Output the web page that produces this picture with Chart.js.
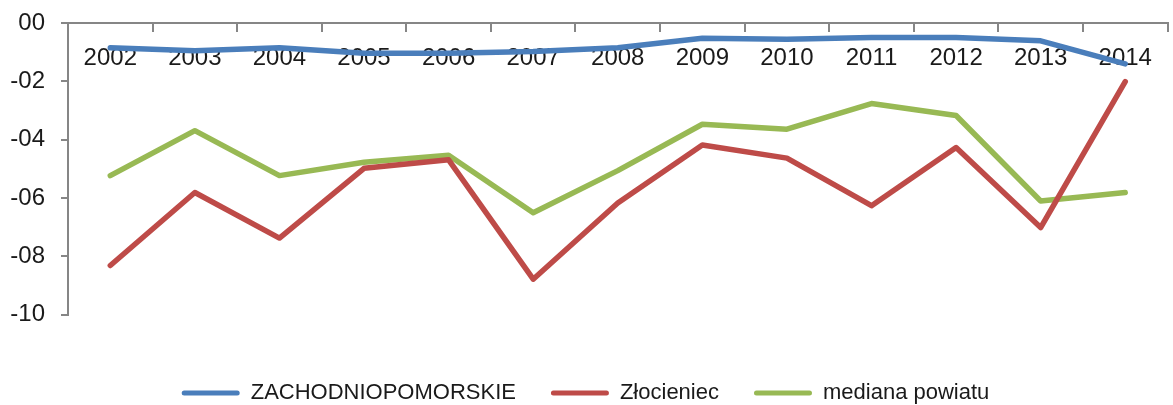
<!DOCTYPE html>
<html>
<head>
<meta charset="utf-8">
<script src="https://cdn.jsdelivr.net/npm/chart.js@4"></script>
<style>
html,body{margin:0;padding:0;background:#fff;}
#wrap{width:1173px;height:405px;}
</style>
</head>
<body>
<div id="wrap"><canvas id="chart"></canvas></div>
<script>
// data
const years = ["2002","2003","2004","2005","2006","2007","2008","2009","2010","2011","2012","2013","2014"];
const zachodniopomorskie = [-0.85,-0.95,-0.85,-1.04,-1.04,-0.98,-0.85,-0.52,-0.56,-0.5,-0.5,-0.61,-1.4];
const zlocieniec = [-8.31,-5.81,-7.37,-4.98,-4.69,-8.78,-6.17,-4.18,-4.63,-6.26,-4.27,-7.01,-2.01];
const mediana = [-5.23,-3.69,-5.23,-4.77,-4.53,-6.5,-5.06,-3.47,-3.64,-2.76,-3.17,-6.1,-5.81];
const yTickLabels = {"0":"00","-2":"-02","-4":"-04","-6":"-06","-8":"-08","-10":"-10"};

const axisGray = "#868686";
const font = "'Liberation Sans', Arial, sans-serif";

const ctx = document.getElementById("chart");
new Chart(ctx,{
type:"line",
data:{
labels:years,
datasets:[
{label:"ZACHODNIOPOMORSKIE",data:zachodniopomorskie,borderColor:"#4A7EBB",backgroundColor:"#4A7EBB"},
{label:"Złocieniec",data:zlocieniec,borderColor:"#BE4B48",backgroundColor:"#BE4B48"},
{label:"mediana powiatu",data:mediana,borderColor:"#98B954",backgroundColor:"#98B954"}
]
},
options:{
responsive:true,
maintainAspectRatio:false,
animation:false,
layout:{padding:{left:0,right:2,top:0,bottom:-9}},
elements:{
line:{borderWidth:5.5,tension:0,fill:false,borderCapStyle:"round",borderJoinStyle:"round"},
point:{radius:0,hoverRadius:0}
},
plugins:{
tooltip:{enabled:false},
legend:{
position:"bottom",
title:{display:true,text:"",font:{size:1},padding:{top:31,bottom:0}},
labels:{
font:{family:font,size:22},
color:"#1a1a1a",
boxWidth:58,
boxHeight:5,
padding:35,
useBorderRadius:true,
borderRadius:2.5,
generateLabels:(chart)=>Chart.defaults.plugins.legend.labels.generateLabels(chart).map(l=>({...l,lineWidth:0,fillStyle:l.strokeStyle}))
}
}
},
scales:{
x:{
position:"top",
offset:true,
grid:{offset:true,drawOnChartArea:false,drawTicks:true,tickLength:-9,color:axisGray,lineWidth:2},
border:{display:true,color:axisGray,width:2},
ticks:{mirror:true,padding:21,autoSkip:false,maxRotation:0,font:{family:font,size:24},color:"#1a1a1a"},
afterFit:(s)=>{s.height=23;}
},
y:{
min:-10,max:0,
grid:{drawOnChartArea:false,drawTicks:true,tickLength:7,color:axisGray,lineWidth:2},
border:{display:true,color:axisGray,width:2},
ticks:{stepSize:2,padding:16,font:{family:font,size:24},color:"#1a1a1a",
callback:(v)=>yTickLabels[String(v)]},
afterFit:(s)=>{s.width=68;s.paddingTop=0;s.paddingBottom=0;}
}
}
}
});
</script>
</body>
</html>
